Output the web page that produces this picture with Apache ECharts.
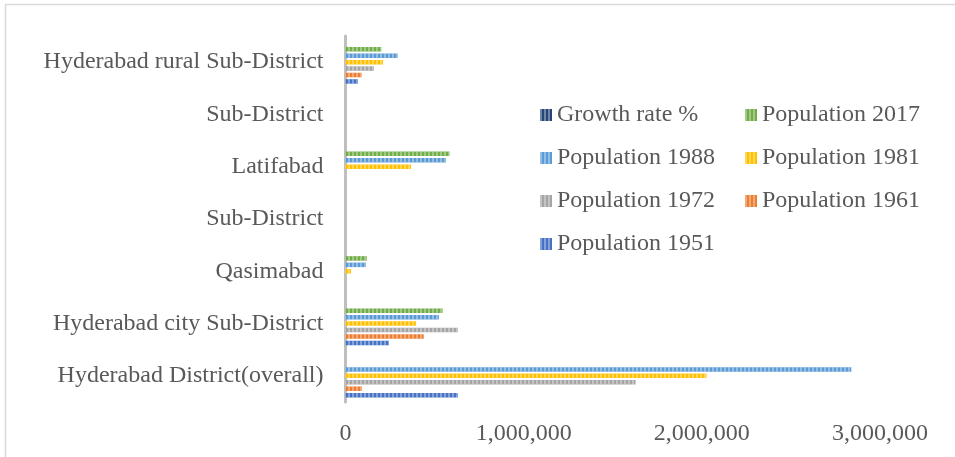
<!DOCTYPE html>
<html>
<head>
<meta charset="utf-8">
<script src="https://cdn.jsdelivr.net/npm/echarts@6/dist/echarts.min.js"></script>
<style>
  html, body { margin: 0; padding: 0; background: #ffffff; }
  #chart { width: 955px; height: 457px; }
</style>
</head>
<body>
<div id="chart"></div>
<script>
// Categories, bottom to top on the vertical axis
const categories = [
  'Hyderabad District(overall)',
  'Hyderabad city Sub-District',
  'Qasimabad',
  'Sub-District',
  'Latifabad',
  'Sub-District',
  'Hyderabad rural Sub-District'
];

// Census populations per area
const pop1951 = [631000, 244000, null, null, null, null, 70000];
const pop1961 = [93000, 439000, null, null, null, null, 91000];
const pop1972 = [1628000, 631000, null, null, null, null, 160000];
const pop1981 = [2026000, 395000, 31000, null, 367000, null, 210000];
const pop1988 = [2839000, 524000, 115000, null, 564000, null, 293000];
const pop2017 = [null, 545000, 119000, null, 584000, null, 201000];
const growthRate = [2.5, 2.4, 3.1, null, 2.2, null, 1.9];

// Value axis ticks
const xTicks = [0, 1000000, 2000000, 3000000];

const seriesDefs = [
  { name: 'Growth rate %',   data: growthRate, color: '#264478' },
  { name: 'Population 2017', data: pop2017,    color: '#70AD47' },
  { name: 'Population 1988', data: pop1988,    color: '#5B9BD5' },
  { name: 'Population 1981', data: pop1981,    color: '#FFC000' },
  { name: 'Population 1972', data: pop1972,    color: '#A5A5A5' },
  { name: 'Population 1961', data: pop1961,    color: '#ED7D31' },
  { name: 'Population 1951', data: pop1951,    color: '#4472C4' }
];

const stripe = {
  symbol: 'rect',
  symbolSize: 1,
  dashArrayX: [1.5, 1.5],
  dashArrayY: [6, 0],
  color: 'rgba(255,255,255,0.35)'
};

const textColor = '#595959';
const fontFamily = '"Liberation Serif", "Times New Roman", serif';

const chart = echarts.init(document.getElementById('chart'), null, { renderer: 'canvas' });

chart.setOption({
  backgroundColor: '#ffffff',
  animation: false,
  grid: { left: 345.5, top: 36, width: 534.5, height: 366, containLabel: false },
  legend: {
    data: seriesDefs.map(s => s.name),
    left: 535,
    top: 95,
    width: 420,
    itemWidth: 12,
    itemHeight: 12,
    itemGap: 13,
    icon: 'rect',
    textStyle: {
      fontFamily: fontFamily,
      fontSize: 24,
      color: textColor,
      width: 175,
      lineHeight: 30,
      padding: [0, 0, 0, 0]
    }
  },
  xAxis: {
    type: 'value',
    min: xTicks[0],
    max: xTicks[xTicks.length - 1],
    interval: xTicks[1] - xTicks[0],
    axisLine: { show: false },
    axisTick: { show: false },
    splitLine: { show: false },
    axisLabel: {
      margin: 20,
      fontFamily: fontFamily,
      fontSize: 24,
      color: textColor,
      formatter: v => v.toLocaleString('en-US')
    }
  },
  yAxis: {
    type: 'category',
    data: categories,
    axisLine: { show: true, lineStyle: { color: '#BFBFBF', width: 3 } },
    axisTick: { show: false },
    splitLine: { show: false },
    axisLabel: {
      margin: 22,
      fontFamily: fontFamily,
      fontSize: 24,
      color: textColor
    }
  },
  graphic: [
    {
      type: 'polyline',
      shape: { points: [[5.5, 457], [5.5, 4.5], [955, 4.5]] },
      style: { stroke: '#D9D9D9', lineWidth: 1.5, fill: null },
      silent: true
    }
  ],
  series: seriesDefs.map(s => ({
    name: s.name,
    type: 'bar',
    data: s.data,
    barWidth: 4.5,
    barGap: '43%',
    itemStyle: { color: s.color, decal: stripe }
  }))
});
</script>
</body>
</html>
